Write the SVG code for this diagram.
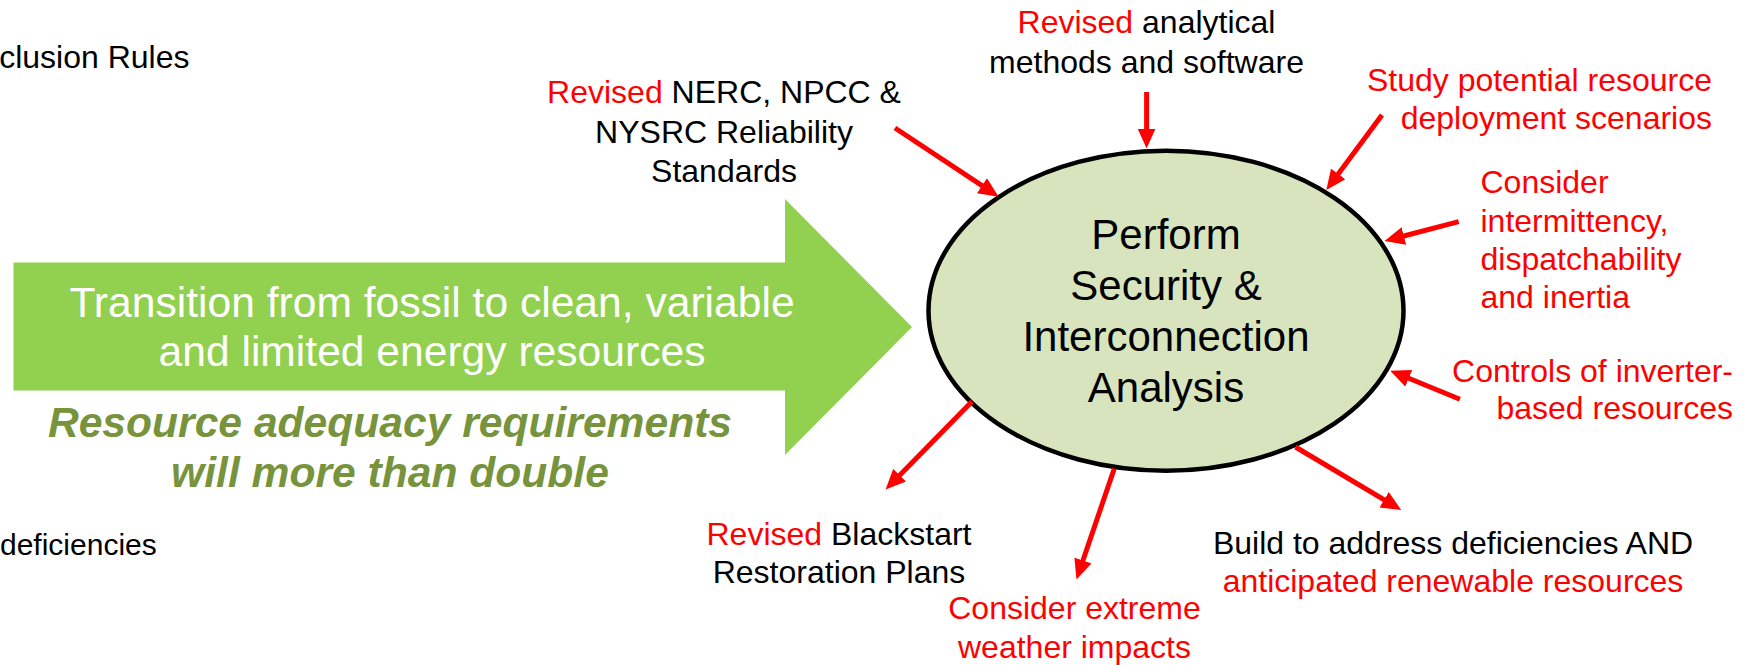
<svg xmlns="http://www.w3.org/2000/svg" width="1759" height="665" viewBox="0 0 1759 665">
<style>
text{font-family:"Liberation Sans",Arial,sans-serif}
.lb{font-size:32px;fill:#000}
.r{fill:#FF0000}
.k{fill:#000}
.big{font-size:42.6px;fill:#FFFFFF}
.ital{font-size:42.6px;font-weight:bold;font-style:italic;fill:#77933C}
.ctr{font-size:42px;fill:#000}
.conn line{stroke:#FF0000;stroke-width:5}
</style>
<defs>
<marker id="ah" markerUnits="userSpaceOnUse" markerWidth="20" markerHeight="18" refX="10" refY="9" orient="auto">
<path d="M0,0 L20,9 L0,18 z" fill="#FF0000"/>
</marker>
</defs>
<rect width="1759" height="665" fill="#FFFFFF"/>
<g id="cut-texts">
<text class="lb" x="189.5" y="68" text-anchor="end">clusion Rules</text>
<text class="lb" x="0" y="555" style="font-size:30px">deficiencies</text>
</g>
<g id="transition-arrow">
<path d="M13.5,262.5 L785,262.5 L785,199 L912,327 L785,455 L785,390.5 L13.5,390.5 z" fill="#92D050"/>
<text class="big" x="432" y="317" text-anchor="middle">Transition from fossil to clean, variable</text>
<text class="big" x="432" y="366" text-anchor="middle">and limited energy resources</text>
</g>
<g id="adequacy-note">
<text class="ital" x="390" y="437" text-anchor="middle">Resource adequacy requirements</text>
<text class="ital" x="390" y="487" text-anchor="middle">will more than double</text>
</g>
<g id="analysis">
<ellipse cx="1166" cy="310.7" rx="237.5" ry="160" fill="#D7E4BD" stroke="#000" stroke-width="4.5"/>
<text class="ctr" x="1166" y="249" text-anchor="middle">Perform</text>
<text class="ctr" x="1166" y="299.5" text-anchor="middle">Security &amp;</text>
<text class="ctr" x="1166" y="351" text-anchor="middle">Interconnection</text>
<text class="ctr" x="1166" y="401.5" text-anchor="middle">Analysis</text>
</g>
<g id="standards">
<text class="lb" x="724" y="103" text-anchor="middle"><tspan class="r">Revised</tspan> NERC, NPCC &amp;</text>
<text class="lb" x="724" y="143" text-anchor="middle">NYSRC Reliability</text>
<text class="lb" x="724" y="181.5" text-anchor="middle">Standards</text>
</g>
<g id="methods">
<text class="lb" x="1146.5" y="32.5" text-anchor="middle"><tspan class="r">Revised</tspan> analytical</text>
<text class="lb" x="1146.5" y="72.5" text-anchor="middle">methods and software</text>
</g>
<g id="scenarios">
<text class="lb r" x="1712" y="90.5" text-anchor="end">Study potential resource</text>
<text class="lb r" x="1712" y="128.5" text-anchor="end">deployment scenarios</text>
</g>
<g id="intermittency">
<text class="lb r" x="1480.5" y="193.3">Consider</text>
<text class="lb r" x="1480.5" y="231.7">intermittency,</text>
<text class="lb r" x="1480.5" y="270">dispatchability</text>
<text class="lb r" x="1480.5" y="308.3">and inertia</text>
</g>
<g id="inverters">
<text class="lb r" x="1733" y="381.7" text-anchor="end">Controls of inverter-</text>
<text class="lb r" x="1733" y="419" text-anchor="end">based resources</text>
</g>
<g id="build">
<text class="lb" x="1453" y="554" text-anchor="middle">Build to address deficiencies AND</text>
<text class="lb r" x="1453" y="591.7" text-anchor="middle">anticipated renewable resources</text>
</g>
<g id="weather">
<text class="lb r" x="1074.5" y="619.3" text-anchor="middle">Consider extreme</text>
<text class="lb r" x="1074.5" y="658.3" text-anchor="middle">weather impacts</text>
</g>
<g id="blackstart">
<text class="lb" x="839" y="545" text-anchor="middle"><tspan class="r">Revised</tspan> Blackstart</text>
<text class="lb" x="839" y="583.3" text-anchor="middle">Restoration Plans</text>
</g>
<g id="connectors" class="conn">
<line x1="895" y1="128" x2="990.3" y2="191.2" marker-end="url(#ah)"/>
<line x1="1146.6" y1="92" x2="1146.6" y2="138.5" marker-end="url(#ah)"/>
<line x1="1382" y1="115" x2="1332.3" y2="182" marker-end="url(#ah)"/>
<line x1="1458.7" y1="221.7" x2="1394.2" y2="238.5" marker-end="url(#ah)"/>
<line x1="1459.9" y1="399.3" x2="1399.5" y2="374.5" marker-end="url(#ah)"/>
<line x1="1295.5" y1="447" x2="1392.7" y2="504.9" marker-end="url(#ah)"/>
<line x1="1114.3" y1="468.5" x2="1079.7" y2="570" marker-end="url(#ah)"/>
<line x1="972" y1="401.5" x2="892.6" y2="482.4" marker-end="url(#ah)"/>
</g>
</svg>
